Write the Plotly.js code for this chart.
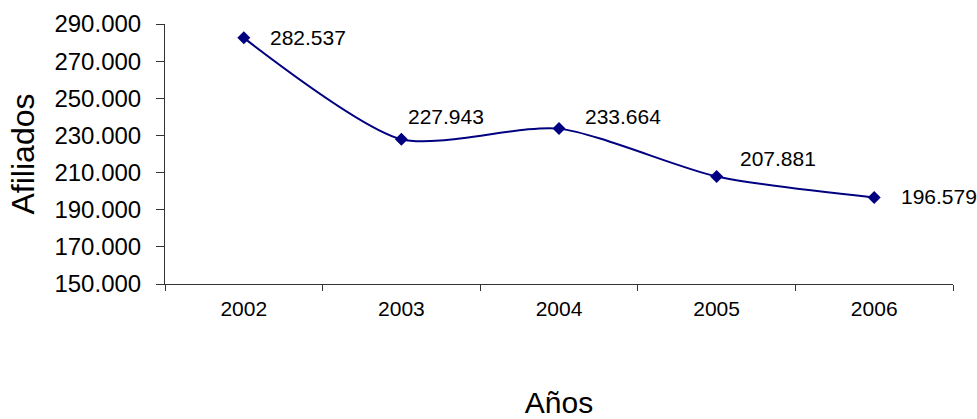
<!DOCTYPE html>
<html>
<head>
<meta charset="utf-8">
<script src="https://cdn.plot.ly/plotly-3.0.1.min.js"></script>
<style>html,body{margin:0;padding:0;background:#fff;}#chart{width:977px;height:419px;}</style>
</head>
<body>
<div id="chart"></div>
<script>
const years = ["2002", "2003", "2004", "2005", "2006"];
const afiliados = [282537, 227943, 233664, 207881, 196579];
const yTicks = [150000, 170000, 190000, 210000, 230000, 250000, 270000, 290000];

const labelShift = [[24, 0], [5, -23], [24, -12], [21, -18], [25, -1]];

function fmt(v) {
  return String(v).replace(/\B(?=(\d{3})+(?!\d))/g, ".");
}

const navy = "#000080";
const font = "Liberation Sans, Arial, sans-serif";

const trace = {
  x: years,
  y: afiliados,
  type: "scatter",
  mode: "lines+markers",
  line: {color: navy, width: 2, shape: "spline", smoothing: 0.7},
  marker: {symbol: "diamond", size: 10, color: navy},
  hoverinfo: "none"
};

const annotations = years.map((yr, i) => ({
  x: i, y: afiliados[i], xref: "x", yref: "y",
  text: fmt(afiliados[i]), showarrow: false, visible: true,
  xanchor: "left", yanchor: "middle",
  xshift: labelShift[i][0], yshift: -labelShift[i][1],
  font: {family: font, size: 21, color: "#000000"}
}));

const layout = {
  width: 977, height: 419,
  margin: {l: 165, r: 24, t: 24, b: 135},
  paper_bgcolor: "#fff", plot_bgcolor: "#fff",
  showlegend: false,
  separators: ",.",
  font: {family: font, color: "#000"},
  xaxis: {
    type: "category",
    range: [-0.5, 4.5],
    showgrid: false, zeroline: false,
    showline: true, linecolor: "#333", linewidth: 1,
    ticks: "outside", tickson: "boundaries", ticklen: 6, tickcolor: "#333",
    ticklabelstandoff: 6,
    tickfont: {family: font, size: 21, color: "#000"},
    title: {text: "Años", font: {family: font, size: 30, color: "#000"}, standoff: 79}
  },
  yaxis: {
    range: [150000, 290000],
    tickvals: yTicks,
    ticktext: yTicks.map(fmt),
    showgrid: false, zeroline: false,
    showline: true, linecolor: "#333", linewidth: 1,
    ticks: "outside", ticklen: 8, tickcolor: "#333",
    ticklabelstandoff: 10,
    tickfont: {family: font, size: 24, color: "#000"},
    title: {text: "Afiliados", font: {family: font, size: 32, color: "#000"}, standoff: 10}
  },
  annotations: annotations
};

Plotly.newPlot("chart", [trace], layout, {displayModeBar: false});
</script>
</body>
</html>
